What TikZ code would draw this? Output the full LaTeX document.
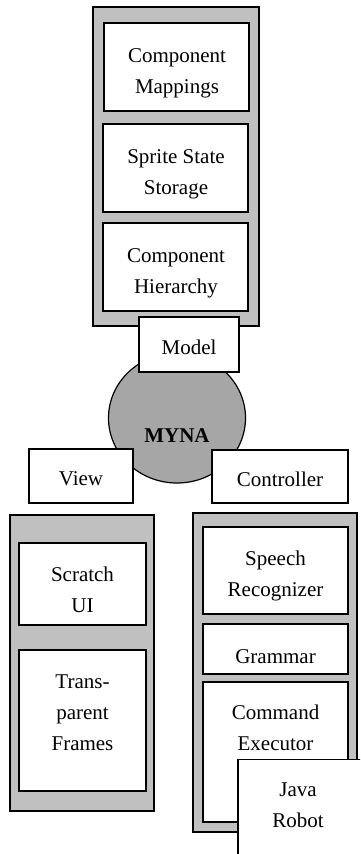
\documentclass[tikz,border=0pt]{standalone}
\usepackage{fontspec}
\setmainfont{Liberation Serif}
\usetikzlibrary{shapes.geometric}
\definecolor{panelgray}{HTML}{C0C0C0}
\definecolor{hubgray}{HTML}{A6A6A6}
\tikzset{
  container/.style={draw, line width=1.3pt, fill=panelgray, inner sep=0pt},
  part/.style={draw, line width=1.7pt, fill=white, inner sep=0pt},
  tag/.style={draw, line width=1.2pt, fill=white, inner sep=0pt},
  hub/.style={ellipse, draw, line width=1.2pt, fill=hubgray, inner sep=0pt},
  txt/.style={align=center, inner sep=0pt},
}
\begin{document}
\begin{tikzpicture}[x=1pt, y=-1pt,
  every node/.append style={font=\fontsize{21}{31}\selectfont}]
\useasboundingbox (0,0) rectangle (360,854);
\clip (0,0) rectangle (360,854);

% Model package
\node[container, minimum width=166pt, minimum height=319pt] (modelpkg) at (176,166.5) {};
\node[part, minimum width=145pt, minimum height=88pt] (mappings) at (176.5,67) {};
\node[txt] (mappingstext) at (177,73) {Component\\Mappings};
\node[part, minimum width=145pt, minimum height=88pt] (storage) at (175.5,168) {};
\node[txt] (storagetext) at (176,174) {Sprite State\\Storage};
\node[part, minimum width=145pt, minimum height=88pt] (hierarchy) at (175.5,267) {};
\node[txt] (hierarchytext) at (176,273) {Component\\Hierarchy};

% central hub
\node[hub, minimum width=137pt, minimum height=130pt] (myna) at (177,418) {};
\node[txt, font=\fontsize{21}{31}\selectfont\bfseries] (mynatext) at (177,436) {MYNA};

% MVC labels
\node[tag, minimum width=100pt, minimum height=55pt] (model) at (189,344.5) {};
\node[txt] (modeltext) at (189,347) {Model};
\node[tag, minimum width=104pt, minimum height=54pt] (view) at (81,476) {};
\node[txt] (viewtext) at (81,478.7) {View};
\node[tag, minimum width=136pt, minimum height=53pt] (controller) at (280,476.5) {};
\node[txt] (controllertext) at (280,479.5) {Controller};

% View package
\node[container, minimum width=144pt, minimum height=296pt] (viewpkg) at (82,663) {};
\node[part, minimum width=127pt, minimum height=82pt] (scratch) at (82.5,584) {};
\node[txt] (scratchtext) at (82.5,590) {Scratch\\UI};
\node[part, minimum width=127pt, minimum height=141pt] (frames) at (82.5,720.5) {};
\node[txt] (framestext) at (82.5,713) {Trans-\\parent\\Frames};

% Controller package
\node[container, minimum width=164pt, minimum height=319pt] (ctrlpkg) at (275,672.5) {};
\node[part, minimum width=145pt, minimum height=87pt] (speech) at (275.5,570.5) {};
\node[txt] (speechtext) at (275.5,575.5) {Speech\\Recognizer};
\node[part, minimum width=145pt, minimum height=50pt] (grammar) at (275.5,649) {};
\node[txt] (grammartext) at (275.5,657) {Grammar};
\node[part, minimum width=145pt, minimum height=140pt] (executor) at (275.5,752) {};
\node[txt] (executortext) at (275.5,728) {Command\\Executor};

% Java Robot, running off the page edge
\node[tag, minimum width=124pt, minimum height=111pt] (robot) at (300,815) {};
\node[txt] (robottext) at (298,805.5) {Java\\Robot};
\end{tikzpicture}
\end{document}
